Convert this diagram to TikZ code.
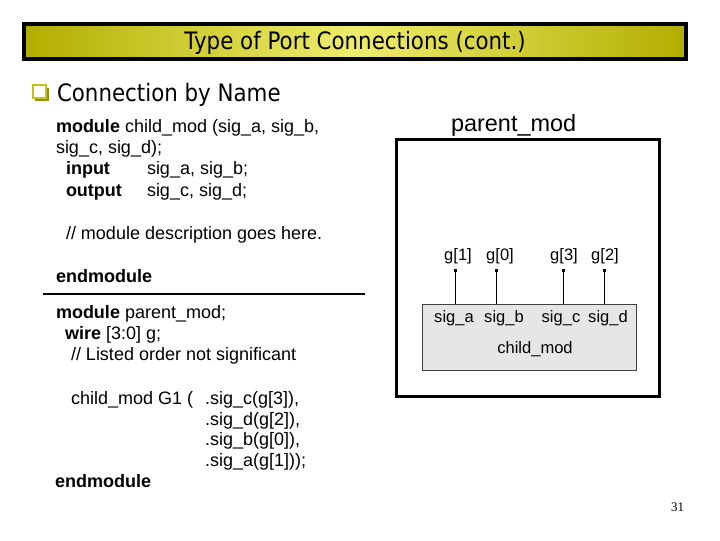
\documentclass[tikz,border=0pt]{standalone}
\usepackage{fontspec}
\setmainfont{Liberation Sans}
\newfontfamily\tahoma[FakeStretch=0.89]{DejaVu Sans}
\newfontfamily\serifnum{Liberation Serif}
\definecolor{barEdge}{RGB}{178,174,0}
\definecolor{barMid}{RGB}{238,236,110}
\definecolor{bulletc}{RGB}{196,192,30}
\definecolor{childfill}{RGB}{230,230,230}
\tikzset{
  txt/.style={inner sep=0pt, outer sep=0pt, anchor=base west},
  code/.style={txt, font=\fontsize{13.5}{16}\selectfont},
  lbl/.style={inner sep=0pt, outer sep=0pt, anchor=base, font=\fontsize{12.4}{14}\selectfont},
  tah/.style={inner sep=0pt, outer sep=0pt, font=\tahoma\fontsize{18}{21}\selectfont},
  wiredot/.style={fill=black, inner sep=0pt, outer sep=0pt, minimum size=2.25pt},
  wireline/.style={line width=0.9pt}
}
\begin{document}
\begin{tikzpicture}[x=0.75pt,y=-0.75pt]
\useasboundingbox (0,0) rectangle (720,540);
\fill[white] (0,0) rectangle (720,540);
% title bar
\node[draw=black, line width=3pt, left color=barEdge, right color=barEdge, middle color=barMid,
      minimum width=496.5pt, minimum height=26.25pt, inner sep=0pt, outer sep=0pt] (bar) at (355,41.5) {};
\node[tah, anchor=base] (title) at (355,49.2) {Type of Port Connections (cont.)};
% bullet
\fill[bulletc!75!black] (35,87.5) rectangle (48.5,101);
\filldraw[fill=white, draw=bulletc, line width=0.9pt] (33,85) rectangle (46,98);
\node[tah, anchor=base west] (sub) at (57,101) {Connection by Name};
% child_mod code
\node[code] (c1) at (56,132) {\textbf{module} child\_mod (sig\_a, sig\_b,};
\node[code] (c2) at (56,153.5) {sig\_c, sig\_d);};
\node[code] (c3) at (66,174.5) {\textbf{input}};
\node[code] (c3b) at (147,174.5) {sig\_a, sig\_b;};
\node[code] (c4) at (66,196) {\textbf{output}};
\node[code] (c4b) at (147,196) {sig\_c, sig\_d;};
\node[code] (c5) at (66,239.5) {// module description goes here.};
\node[code] (c6) at (56,282.5) {\textbf{endmodule}};
\coordinate (sepL) at (42.7,294);
\coordinate (sepR) at (365,294);
\draw[line width=2pt] (sepL) -- (sepR);
% parent_mod code
\node[code] (p1) at (56,318.3) {\textbf{module} parent\_mod;};
\node[code] (p2) at (65,339.7) {\textbf{wire} [3:0] g;};
\node[code] (p3) at (71,360.7) {// Listed order not significant};
\node[code] (p4) at (71,404.3) {child\_mod G1 (};
\node[code] (p5) at (205,404.3) {.sig\_c(g[3]),};
\node[code] (p6) at (205,425.3) {.sig\_d(g[2]),};
\node[code] (p7) at (205,445.8) {.sig\_b(g[0]),};
\node[code] (p8) at (205,466.3) {.sig\_a(g[1]));};
\node[code] (p9) at (55,487.3) {\textbf{endmodule}};
% diagram
\node[txt, font=\fontsize{17.6}{20}\selectfont] (ptitle) at (451,131) {parent\_mod};
\node[draw=black, line width=2.25pt, minimum width=197.25pt, minimum height=193.1pt,
      inner sep=0pt, outer sep=0pt] (parent) at (528,267.75) {};
\node[draw=black!75, fill=childfill, line width=0.6pt, minimum width=160.1pt, minimum height=49.5pt,
      inner sep=0pt, outer sep=0pt] (child) at (529.25,337) {};
\node[lbl] (sa) at (454,322) {sig\_a};
\node[lbl] (sb) at (504,322) {sig\_b};
\node[lbl] (sc) at (561,322) {sig\_c};
\node[lbl] (sd) at (608,322) {sig\_d};
\node[lbl] (cm) at (535,353) {child\_mod};
\node[lbl] (g1) at (458,260) {g[1]};
\node[lbl] (g0) at (500,260) {g[0]};
\node[lbl] (g3) at (564,260) {g[3]};
\node[lbl] (g2) at (605,260) {g[2]};
\node[wiredot] (d1) at (455.7,270.5) {};
\node[wiredot] (d2) at (496.7,270.5) {};
\node[wiredot] (d3) at (563.3,270.5) {};
\node[wiredot] (d4) at (604.3,270.5) {};
\draw[wireline] (d1.center) -- (d1.center |- child.north);
\draw[wireline] (d2.center) -- (d2.center |- child.north);
\draw[wireline] (d3.center) -- (d3.center |- child.north);
\draw[wireline] (d4.center) -- (d4.center |- child.north);
% page number
\node[inner sep=0pt, anchor=base, font=\serifnum\fontsize{9.75}{11}\selectfont] (pg) at (677.5,511.7) {31};
\end{tikzpicture}
\end{document}
